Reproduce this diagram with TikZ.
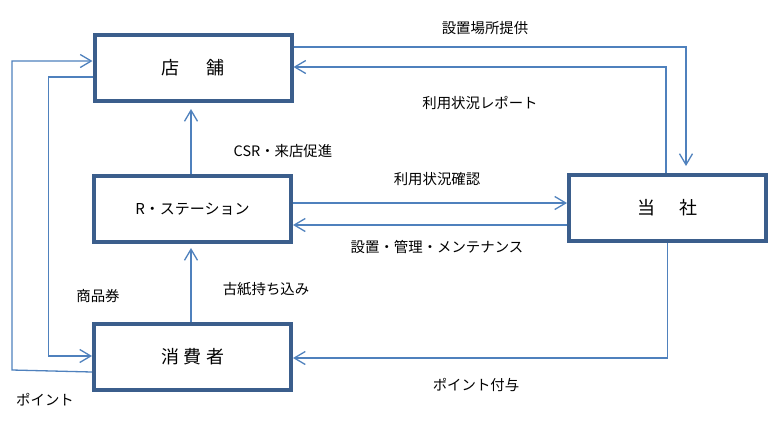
\documentclass[tikz,border=0pt]{standalone}
\usepackage{fontspec}
\setmainfont{Noto Sans CJK JP}
\usetikzlibrary{arrows.meta}
\definecolor{boxc}{HTML}{3B5E8C}
\definecolor{arrc}{HTML}{4F81BD}
\tikzset{
  box/.style={draw=boxc, line width=4pt, fill=white, minimum width=197pt, minimum height=66pt, inner sep=0pt, font=\fontsize{18pt}{20pt}\selectfont},
  arr/.style={draw=arrc, line width=1.3pt, -{Straight Barb[length=11pt,width=13pt,line width=1.3pt]}},
  lab/.style={inner sep=0pt, font=\fontsize{14.4pt}{16pt}\selectfont}
}
\begin{document}
\begin{tikzpicture}[x=1pt,y=-1pt]
\useasboundingbox (0,0) rectangle (770,421);
\node[box] (store) at (193,68) {店\hspace{27pt}舗};
\node[box, font=\fontsize{15pt}{17pt}\selectfont] (rst) at (192.5,209) {R・ステーション};
\node[box] (cons) at (192.5,357) {消\hspace{5pt}費\hspace{4pt}者};
\node[box] (comp) at (667.5,208) {当\hspace{25pt}社};
% store <-> company
\draw[arr, shorten >=7pt] (store.east |- 0,47) -| (comp.north -| 686,0);
\draw[arr] (comp.north -| 666,0) |- (store.east |- 0,67);
% R <-> company
\draw[arr] (rst.east |- 0,203) -- (comp.west |- 0,203);
\draw[arr] (comp.west |- 0,225) -- (rst.east |- 0,225);
% company -> consumer
\draw[arr] (comp.south) |- (cons.east |- 0,358);
% vertical
\draw[arr, shorten >=6pt] (rst.north -| 191,0) -- (store.south -| 191,0);
\draw[arr, shorten >=4pt] (cons.north -| 191,0) -- (rst.south -| 191,0);
% left loops
\draw[arr] (store.west |- 0,77) -- ++(-44,0) |- (cons.west |- 0,356);
\draw[arr] (cons.west |- 0,372) -- ++(-80,-2) |- (store.west |- 0,61);
% labels
\node[lab] (l1) at (485,28) {設置場所提供};
\node[lab] (l2) at (480,103) {利用状況レポート};
\node[lab] (l3) at (283,151) {CSR・来店促進};
\node[lab] (l4) at (437,179) {利用状況確認};
\node[lab] (l5) at (437,247) {設置・管理・メンテナンス};
\node[lab] (l6) at (476,385) {ポイント付与};
\node[lab] (l7) at (266,289) {古紙持ち込み};
\node[lab] (l8) at (98,296) {商品券};
\node[lab] (l9) at (45,400) {ポイント};
\end{tikzpicture}
\end{document}
